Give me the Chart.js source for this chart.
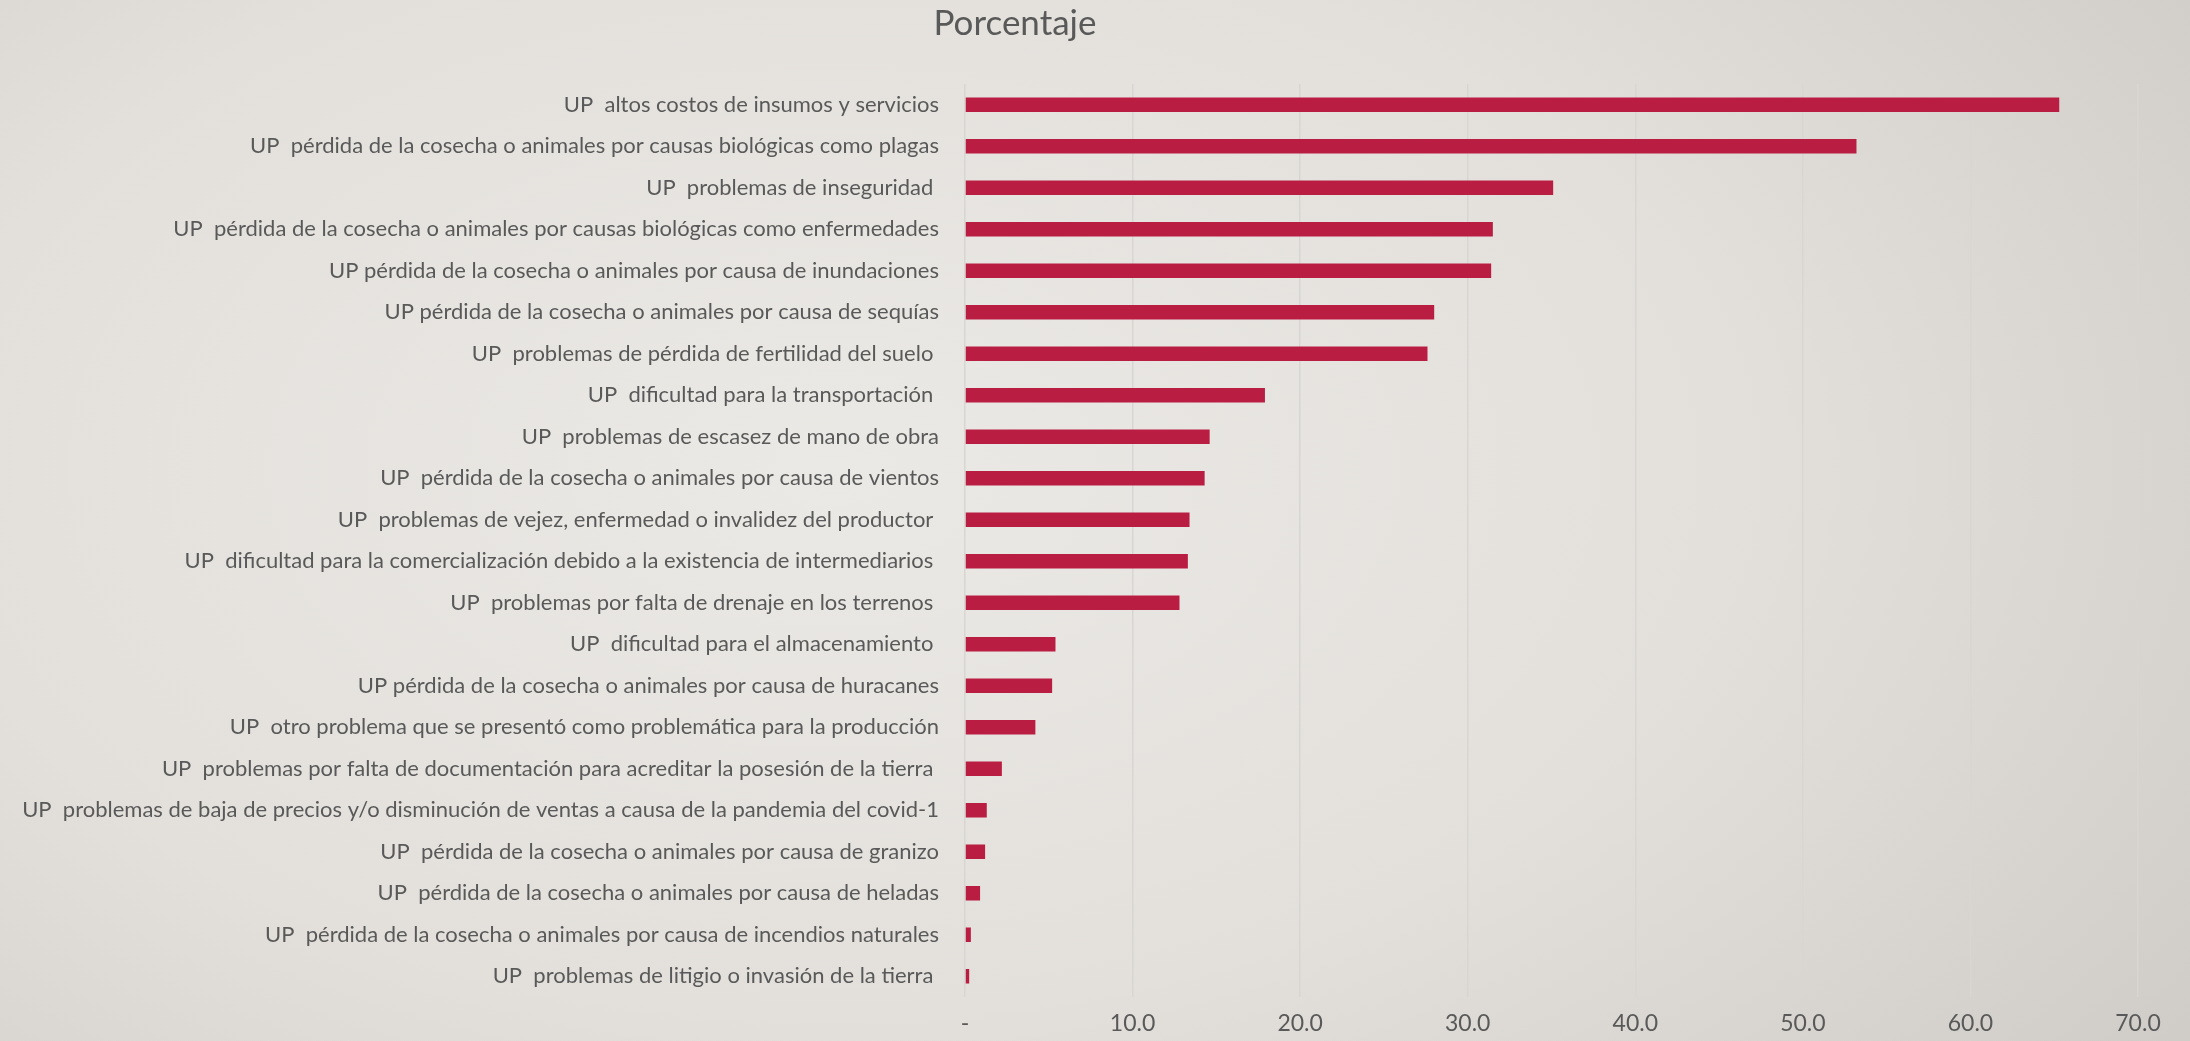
<!DOCTYPE html>
<html>
<head>
<meta charset="utf-8">
<script src="https://cdn.jsdelivr.net/npm/chart.js@4.4.1/dist/chart.umd.min.js"></script>
<style>
	html, body { margin: 0; padding: 0; }
	body {
		width: 2190px; height: 1041px; overflow: hidden;
		background: radial-gradient(ellipse 75% 95% at 38% 45%, #ebe9e5 0%, #e3e0dc 55%, #d0cdc8 100%);
	}
	#graficoProblemas { display: block; }
</style>
</head>
<body>
<canvas id="graficoProblemas" width="2190" height="1041"></canvas>
<script>
var categorias = [
	'UP  altos costos de insumos y servicios',
	'UP  pérdida de la cosecha o animales por causas biológicas como plagas',
	'UP  problemas de inseguridad ',
	'UP  pérdida de la cosecha o animales por causas biológicas como enfermedades',
	'UP pérdida de la cosecha o animales por causa de inundaciones',
	'UP pérdida de la cosecha o animales por causa de sequías',
	'UP  problemas de pérdida de fertilidad del suelo ',
	'UP  dificultad para la transportación ',
	'UP  problemas de escasez de mano de obra',
	'UP  pérdida de la cosecha o animales por causa de vientos',
	'UP  problemas de vejez, enfermedad o invalidez del productor ',
	'UP  dificultad para la comercialización debido a la existencia de intermediarios ',
	'UP  problemas por falta de drenaje en los terrenos ',
	'UP  dificultad para el almacenamiento ',
	'UP pérdida de la cosecha o animales por causa de huracanes',
	'UP  otro problema que se presentó como problemática para la producción',
	'UP  problemas por falta de documentación para acreditar la posesión de la tierra ',
	'UP  problemas de baja de precios y/o disminución de ventas a causa de la pandemia del covid-1',
	'UP  pérdida de la cosecha o animales por causa de granizo',
	'UP  pérdida de la cosecha o animales por causa de heladas',
	'UP  pérdida de la cosecha o animales por causa de incendios naturales',
	'UP  problemas de litigio o invasión de la tierra '
];

var porcentajes = [65.3, 53.2, 35.1, 31.5, 31.4, 28.0, 27.6, 17.9, 14.6, 14.3, 13.4,
	13.3, 12.8, 5.4, 5.2, 4.2, 2.2, 1.3, 1.2, 0.9, 0.35, 0.25];

var etiquetasEje = ['-', '10.0', '20.0', '30.0', '40.0', '50.0', '60.0', '70.0'];

var tituloGrafico = 'Porcentaje';

var Encuesta = Encuesta || {};

Encuesta.GraficoProblemas = (function() {

	function GraficoProblemas() {
		this.ctx = document.getElementById('graficoProblemas').getContext('2d');
	}

	// titulo dibujado a mano, no va centrado sobre todo el lienzo
	var tituloPlugin = {
		id: 'tituloPlugin',
		afterDraw: function(chart) {
			var c = chart.ctx;
			c.save();
			c.font = '35px Lato';
			c.fillStyle = '#595959';
			c.textAlign = 'center';
			c.textBaseline = 'middle';
			c.fillText(tituloGrafico, 1015, 24);
			c.restore();
		}
	};

	GraficoProblemas.prototype.iniciar = function() {
		this.grafico = new Chart(this.ctx, {
			type: 'bar',
			data: {
				labels: categorias,
				datasets: [{
					label: tituloGrafico,
					backgroundColor: '#b91e42',
					borderWidth: 0,
					barPercentage: 0.35,
					categoryPercentage: 1,
					data: porcentajes
				}]
			},
			options: {
				indexAxis: 'y',
				responsive: false,
				animation: false,
				layout: { padding: { top: 84, right: 52, bottom: 0, left: 0 } },
				plugins: {
					legend: { display: false },
					tooltip: { enabled: false }
				},
				scales: {
					x: {
						min: 0,
						max: 70,
						afterFit: function(escala) { escala.height = 44; },
						ticks: {
							stepSize: 10,
							color: '#595959',
							font: { family: 'Lato', size: 23, lineHeight: 1 },
							padding: 15,
							callback: function(valor, i) { return etiquetasEje[i]; }
						},
						grid: { color: '#d8d6d2', lineWidth: 1.5, drawTicks: false },
						border: { display: false }
					},
					y: {
						afterFit: function(escala) { escala.width = 965; },
						ticks: {
							color: '#595959',
							font: { family: 'Lato', size: 22 },
							padding: 26,
							autoSkip: false
						},
						grid: { display: false, drawTicks: false },
						border: { display: false }
					}
				}
			},
			plugins: [tituloPlugin]
		});
	};

	return GraficoProblemas;

}());

document.addEventListener('DOMContentLoaded', function() {
	var graficoProblemas = new Encuesta.GraficoProblemas();
	graficoProblemas.iniciar();
});
</script>
</body>
</html>
